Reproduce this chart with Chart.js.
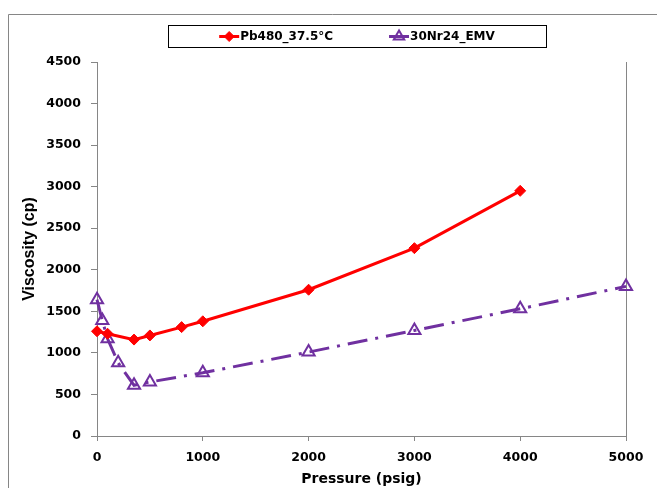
<!DOCTYPE html>
<html>
<head>
<meta charset="utf-8">
<script src="https://cdn.jsdelivr.net/npm/chart.js@4"></script>
<style>
  html, body { margin: 0; padding: 0; background: #fff; }
  #wrap { width: 657px; height: 488px; position: relative; }
</style>
</head>
<body>
<div id="wrap"><canvas id="chart"></canvas></div>
<script>
// Data
const seriesLabels = ['Pb480_37.5°C', '30Nr24_EMV'];
const pressurePb = [0, 100, 350, 500, 800, 1000, 2000, 3000, 4000];
const viscPb = [1260, 1230, 1160, 1210, 1310, 1380, 1760, 2260, 2950];
const pressureNr = [0, 50, 100, 200, 350, 500, 1000, 2000, 3000, 4000, 5000];
const viscNr = [1640, 1390, 1170, 880, 610, 650, 760, 1010, 1270, 1530, 1800];
const xRange = [0, 5000];
const yRange = [0, 4500];
const xStep = 1000;
const yStep = 500;

const AXIS_GRAY = '#868686';
const RED = '#ff0000';
const PURPLE = '#7030a0';

Chart.defaults.font.family = "'DejaVu Sans', sans-serif";
Chart.defaults.color = '#000';

const toPoints = (xs, ys) => xs.map((x, i) => ({ x, y: ys[i] }));

// Outer chart frame + right edge of the plot area
const framePlugin = {
  id: 'frame',
  beforeDraw(chart) {
    const ctx = chart.ctx;
    ctx.save();
    ctx.strokeStyle = AXIS_GRAY;
    ctx.lineWidth = 1;
    ctx.beginPath();
    ctx.moveTo(8.5, chart.height);
    ctx.lineTo(8.5, 14.5);
    ctx.lineTo(chart.width, 14.5);
    ctx.stroke();
    const a = chart.chartArea;
    ctx.beginPath();
    ctx.moveTo(Math.round(a.right) + 0.5, a.top);
    ctx.lineTo(Math.round(a.right) + 0.5, a.bottom);
    ctx.stroke();
    ctx.restore();
  }
};

// Boxed legend with line + marker samples, like the spreadsheet one
const legendBoxPlugin = {
  id: 'legendBox',
  afterDraw(chart) {
    const ctx = chart.ctx;
    const box = { left: 168, top: 25, width: 378, height: 22 };
    const cy = box.top + box.height / 2 + 0.5;
    const cx = box.left + box.width / 2;
    const lineLen = 20, gap = 56;
    ctx.save();
    ctx.strokeStyle = '#000';
    ctx.lineWidth = 1;
    ctx.strokeRect(box.left + 0.5, box.top + 0.5, box.width, box.height);

    ctx.font = "bold 12px 'DejaVu Sans'";
    ctx.textBaseline = 'middle';
    const items = chart.data.datasets.map(ds => ({ ds, w: lineLen + 1 + ctx.measureText(ds.label).width }));
    const total = items.reduce((s, it) => s + it.w, 0) + gap * (items.length - 1);
    let x = cx - total / 2;
    items.forEach(({ ds, w }) => {
      ctx.strokeStyle = ds.borderColor;
      ctx.lineWidth = 3;
      ctx.setLineDash([]);
      ctx.beginPath();
      ctx.moveTo(x, cy);
      ctx.lineTo(x + lineLen, cy);
      ctx.stroke();
      ctx.fillStyle = ds.pointBackgroundColor;
      ctx.lineWidth = ds.pointBorderWidth;
      Chart.helpers.drawPoint(ctx, {
        pointStyle: ds.pointStyle,
        radius: ds.pointStyle === 'triangle' ? 6 : 5,
        rotation: 0,
        borderWidth: ds.pointBorderWidth
      }, x + lineLen / 2, cy);
      ctx.fillStyle = '#000';
      ctx.fillText(ds.label, x + lineLen + 1, cy);
      x += w + gap;
    });
    ctx.restore();
  }
};

const tickFont = { family: "'DejaVu Sans'", weight: 'bold', size: 12.5 };
const plainNumber = v => String(v);

new Chart(document.getElementById('chart'), {
  type: 'line',
  data: {
    datasets: [
      {
        label: seriesLabels[0],
        data: toPoints(pressurePb, viscPb),
        borderColor: RED,
        borderWidth: 3,
        pointStyle: 'rectRot',
        pointRadius: 5.5,
        pointHoverRadius: 5.5,
        pointBackgroundColor: RED,
        pointBorderColor: RED,
        pointBorderWidth: 1,
        tension: 0,
        clip: false
      },
      {
        label: seriesLabels[1],
        data: toPoints(pressureNr, viscNr),
        borderColor: PURPLE,
        borderWidth: 3,
        borderDash: [20, 8, 3, 8],
        pointStyle: 'triangle',
        pointRadius: 7,
        pointHoverRadius: 7,
        pointBackgroundColor: 'rgba(0,0,0,0)',
        pointBorderColor: PURPLE,
        pointBorderWidth: 2,
        tension: 0,
        clip: false
      }
    ]
  },
  options: {
    responsive: true,
    maintainAspectRatio: false,
    animation: false,
    layout: { padding: { left: 0, right: 31, top: 62, bottom: 0 } },
    plugins: {
      legend: { display: false },
      tooltip: { enabled: false }
    },
    scales: {
      x: {
        type: 'linear',
        min: xRange[0],
        max: xRange[1],
        ticks: { stepSize: xStep, font: tickFont, padding: 9, maxRotation: 0, callback: plainNumber },
        grid: { drawOnChartArea: false, drawTicks: true, tickLength: 5, color: AXIS_GRAY },
        border: { color: AXIS_GRAY, width: 1 },
        title: {
          display: true,
          text: 'Pressure (psig)',
          font: { family: "'DejaVu Sans'", weight: 'bold', size: 14 },
          padding: 0
        },
        afterFit(scale) { scale.height = 52; }
      },
      y: {
        min: yRange[0],
        max: yRange[1],
        ticks: { stepSize: yStep, font: tickFont, padding: 10, callback: plainNumber },
        grid: { drawOnChartArea: false, drawTicks: true, tickLength: 6, color: AXIS_GRAY },
        border: { color: AXIS_GRAY, width: 1 },
        title: {
          display: true,
          text: 'Viscosity (cp)',
          font: { family: "'Liberation Sans'", weight: 'bold', size: 16 },
          padding: { top: 20, bottom: 0 }
        },
        afterFit(scale) { scale.width = 97; }
      }
    }
  },
  plugins: [framePlugin, legendBoxPlugin]
});
</script>
</body>
</html>
